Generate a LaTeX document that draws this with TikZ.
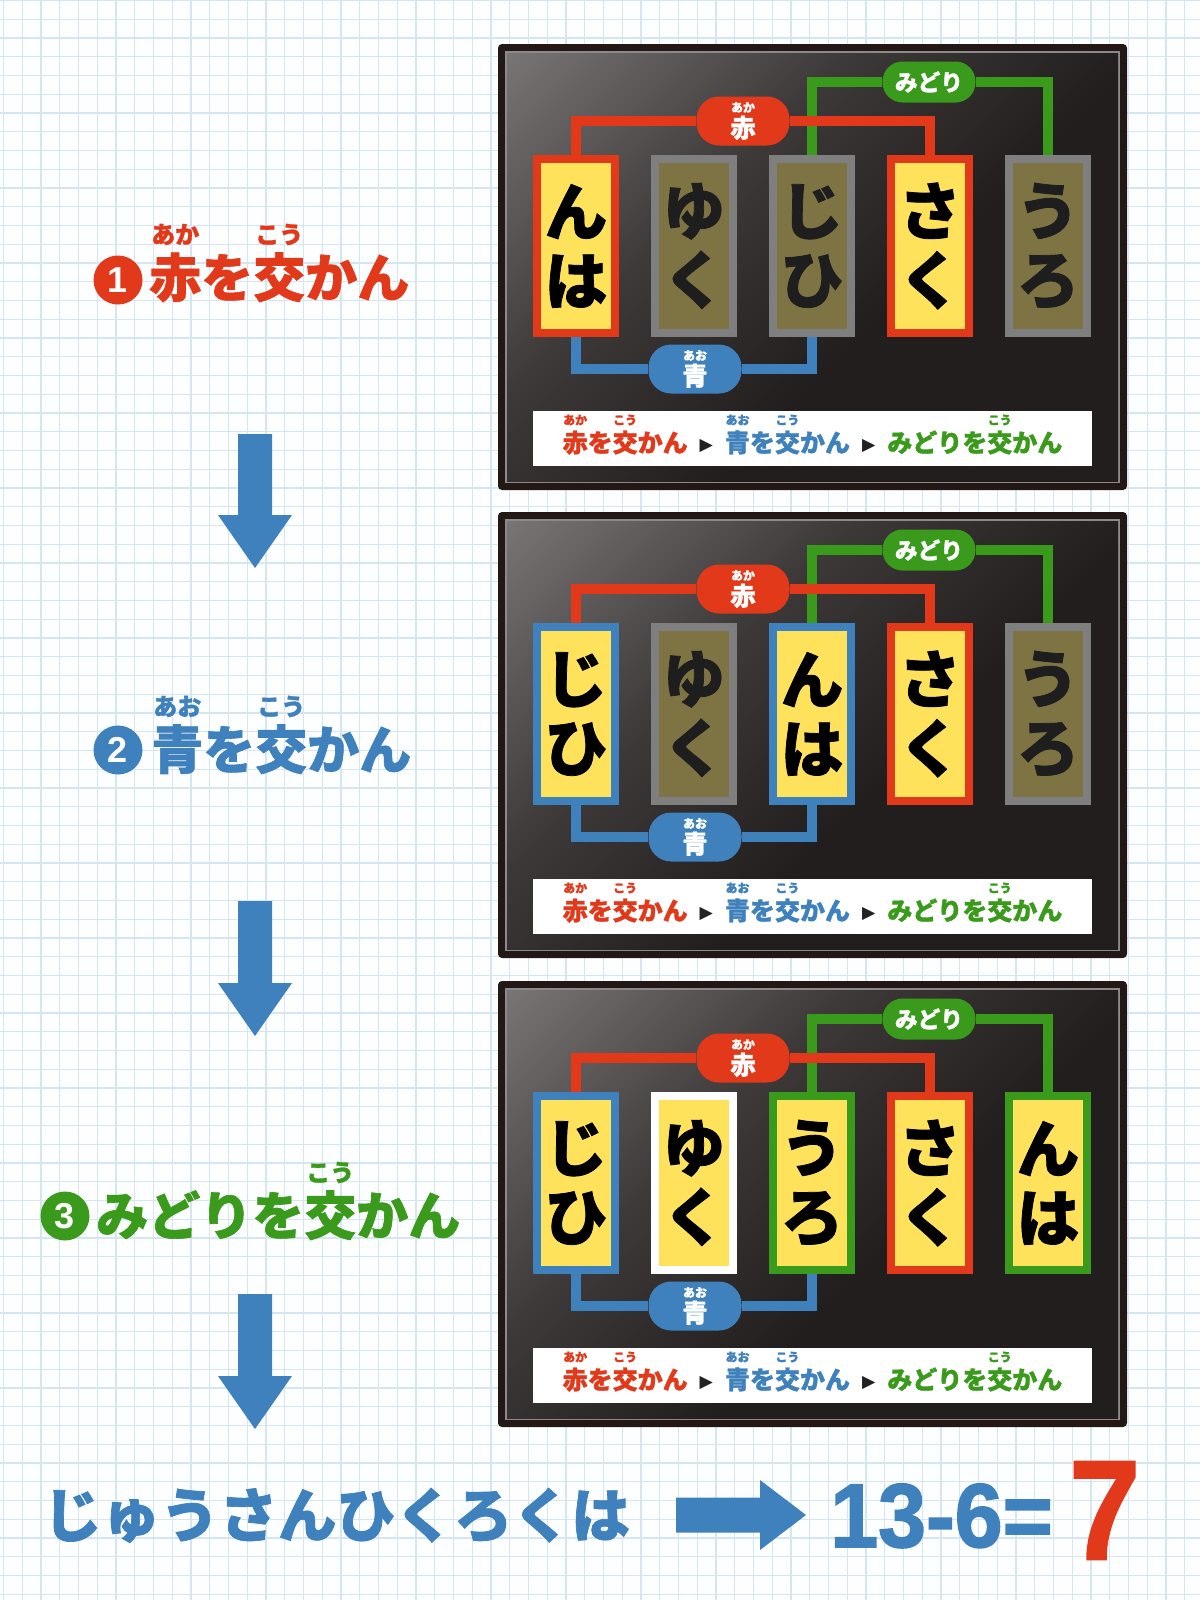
\documentclass[tikz,border=0pt]{standalone}
\usepackage{fontspec}
\usetikzlibrary{calc}
\newfontfamily\jp{Noto Sans CJK JP}[BoldFeatures={FakeBold=1.2}]
\newfontfamily\lib{Liberation Sans}
\newfontfamily\libh{Liberation Sans}[BoldFeatures={FakeBold=1.8}]
\newfontfamily\dv{DejaVu Sans}
\definecolor{jred}{HTML}{E2391B}
\definecolor{jblue}{HTML}{3E81BC}
\definecolor{jgreen}{HTML}{3A9A1B}
\definecolor{cardyellow}{HTML}{FFE25C}
\definecolor{olive}{HTML}{7D7343}
\definecolor{cardgray}{HTML}{7F7F7F}
\definecolor{darktext}{HTML}{1E1E1E}
\definecolor{panelblack}{HTML}{231816}
\definecolor{bevel}{HTML}{8A8A8A}
\definecolor{pdark}{HTML}{221E1E}
\definecolor{pmid}{HTML}{3E3939}
\definecolor{plight}{HTML}{7A7676}
\definecolor{bgc}{HTML}{FDFEFF}
\definecolor{gridc}{HTML}{D6E6F1}
\definecolor{tri}{HTML}{222222}
\pgfdeclarelayer{back}
\pgfdeclarelayer{wires}
\pgfsetlayers{back,wires,main}
\pgfdeclareverticalshading{panelshade}{100bp}{color(0bp)=(pdark); color(42bp)=(pdark); color(62bp)=(pmid); color(86bp)=(plight); color(100bp)=(plight)}
\newdimen\rbr
\newcommand\rb[4]{\leavevmode\setbox0=\hbox{#3}\rbr=#2em\rlap{\hbox to \wd0{\hss\raisebox{\rbr}{\fontsize{#1}{#1}\selectfont #4}\hss}}\box0}
\newcommand\trisep{\hspace{9pt}\raisebox{1.5pt}{\dv\fontsize{13pt}{13pt}\selectfont\color{tri}▶}\hspace{9pt}}
\newcommand\striptxt{{\color{jred}\rb{9pt}{1.1}{赤}{あか}を\rb{9pt}{1.1}{交}{こう}かん}\trisep{\color{jblue}\rb{9pt}{1.1}{青}{あお}を\rb{9pt}{1.1}{交}{こう}かん}\trisep{\color{jgreen}みどりを\rb{9pt}{1.1}{交}{こう}かん}}
\tikzset{
 card/.style 2 args={draw=#1, fill=#2, line width=6pt, minimum width=58.5pt, minimum height=130.5pt, inner sep=0pt, align=center, font=\jp\bfseries\fontsize{47pt}{51.75pt}\selectfont},
 pill/.style={fill=#1, rounded corners=17pt, minimum width=69.75pt, minimum height=36.75pt, inner sep=0pt, text=white, font=\jp\bfseries\fontsize{19pt}{19pt}\selectfont},
 wire/.style={draw=#1, line width=7.5pt},
 stripbox/.style={fill=white, minimum width=419.25pt, minimum height=41.25pt, inner sep=0pt},
 striptext/.style={inner sep=0pt, anchor=base, font=\jp\bfseries\fontsize{18.75pt}{18.75pt}\selectfont},
 numcirc/.style={circle, fill=#1, minimum size=36.75pt, inner sep=0pt, text=white, font=\lib\bfseries\fontsize{27pt}{27pt}\selectfont},
 steplabel/.style={inner sep=0pt, anchor=base west, font=\jp\bfseries\fontsize{39pt}{39pt}\selectfont},
 gridline/.style={draw=gridc, line width=0.9pt},
 blockarrow/.style={fill=jblue},
}
\newcommand\panel[3]{%
\begin{scope}[shift={(498,#2)}]
 \begin{pgfonlayer}{back}
  \fill[panelblack, rounded corners=3pt] (0,0) rectangle (629,446);
  \fill[bevel] (7,7) rectangle (622,439);
  \shade[shading=panelshade, shading angle=45] (9,9) rectangle (620,437);
 \end{pgfonlayer}
 \foreach \i/\txt/\bc/\fc/\tc in {#3}
   {\node[card={\bc}{\fc}, text=\tc] (c#1\i) at ({78+118*(\i-1)},202) {\txt};}
 \node[pill=jgreen, minimum height=30.75pt, rounded corners=15pt, font=\jp\bfseries\fontsize{17pt}{17pt}\selectfont] (g#1) at (431,38) {みどり};
 \node[pill=jred] (r#1) at (245,77) {\rb{9pt}{1.0}{赤}{あか}};
 \node[pill=jblue] (b#1) at (197,325) {\rb{9pt}{1.0}{青}{あお}};
 \begin{pgfonlayer}{wires}
  \draw[wire=jgreen] (c#13.north) |- (g#1) -| (c#15.north);
  \draw[wire=jred] (c#11.north) |- (r#1) -| (c#14.north);
  \draw[wire=jblue] (c#11.south) |- (b#1) -| (c#13.south);
 \end{pgfonlayer}
 \node[stripbox] (s#1) at (314.5,394.5) {};
 \node[striptext] (t#1) at (314.5,408) {\striptxt};
\end{scope}}
\begin{document}
\begin{tikzpicture}[x=0.75pt,y=-0.75pt]
\useasboundingbox (0,0) rectangle (1200,1600);
\begin{pgfonlayer}{back}
 \fill[bgc] (0,0) rectangle (1200,1600);
 \foreach \k in {0,...,63} {\draw[gridline] ({3.5+18.75*\k},0) -- ({3.5+18.75*\k},1600);}
 \foreach \k in {0,...,85} {\draw[gridline] (0,{0.5+18.75*\k}) -- (1200,{0.5+18.75*\k});}
\end{pgfonlayer}
% panels
\panel{1}{44}{1/{ん\\は}/jred/cardyellow/black, 2/{ゆ\\く}/cardgray/olive/darktext, 3/{じ\\ひ}/cardgray/olive/darktext, 4/{さ\\く}/jred/cardyellow/black, 5/{う\\ろ}/cardgray/olive/darktext}
\panel{2}{512}{1/{じ\\ひ}/jblue/cardyellow/black, 2/{ゆ\\く}/cardgray/olive/darktext, 3/{ん\\は}/jblue/cardyellow/black, 4/{さ\\く}/jred/cardyellow/black, 5/{う\\ろ}/cardgray/olive/darktext}
\panel{3}{981}{1/{じ\\ひ}/jblue/cardyellow/black, 2/{ゆ\\く}/white/cardyellow/black, 3/{う\\ろ}/jgreen/cardyellow/black, 4/{さ\\く}/jred/cardyellow/black, 5/{ん\\は}/jgreen/cardyellow/black}
% step labels
\node[numcirc=jred] (n1) at (118,280) {1};
\node[steplabel, text=jred] (l1) at (149,297) {\rb{18pt}{1.03}{赤}{あか}を\rb{18pt}{1.03}{交}{こう}かん};
\node[numcirc=jblue] (n2) at (118,750) {2};
\node[steplabel, text=jblue] (l2) at (151,769) {\rb{18pt}{1.03}{青}{あお}を\rb{18pt}{1.03}{交}{こう}かん};
\node[numcirc=jgreen] (n3) at (65,1216) {3};
\node[steplabel, text=jgreen] (l3) at (96,1235) {みどりを\rb{18pt}{1.03}{交}{こう}かん};
% down arrows
\foreach \a/\ys/\ye in {1/434/568, 2/901/1036, 3/1294/1429} {
 \coordinate (as\a) at (255,\ys);
 \coordinate (ae\a) at (255,\ye);
 \fill[blockarrow] ($(as\a)+(-17,0)$) -- ($(as\a)+(17,0)$) -- ($(ae\a)+(17,-53)$) -- ($(ae\a)+(37,-53)$) -- (ae\a) -- ($(ae\a)+(-37,-53)$) -- ($(ae\a)+(-17,-53)$) -- cycle;
}
% bottom line
\node[inner sep=0pt, anchor=base west, text=jblue, font=\jp\bfseries\fontsize{44pt}{44pt}\selectfont] (ans) at (43,1537) {じゅうさんひくろくは};
\coordinate (rs) at (676,1515);
\coordinate (re) at (806,1515);
\fill[blockarrow] ($(rs)+(0,-17.5)$) -- ($(re)+(-46,-17.5)$) -- ($(re)+(-46,-35)$) -- (re) -- ($(re)+(-46,35)$) -- ($(re)+(-46,17.5)$) -- ($(rs)+(0,17.5)$) -- cycle;
\node[inner sep=0pt, anchor=base west, text=jblue, xscale=0.95, font=\libh\bfseries\fontsize{68pt}{68pt}\selectfont] (eq) at (830,1547) {13-6=};
\node[inner sep=0pt, anchor=base west, text=jred, xscale=0.9, font=\libh\bfseries\fontsize{106pt}{106pt}\selectfont] (res) at (1069,1559) {7};
\end{tikzpicture}
\end{document}
